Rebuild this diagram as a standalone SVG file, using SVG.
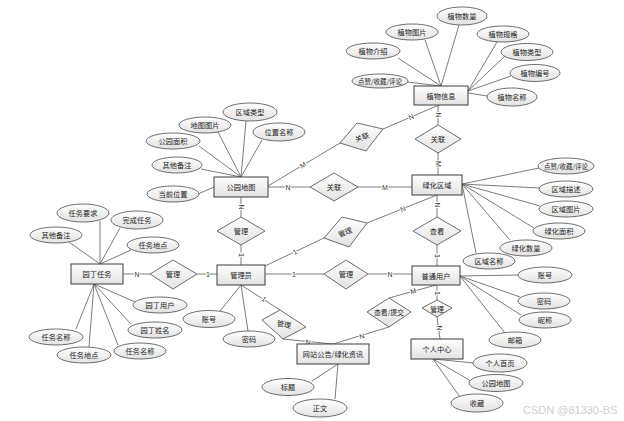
<svg xmlns="http://www.w3.org/2000/svg" width="624" height="421" viewBox="0 0 624 421">
<defs>
<linearGradient id="g" x1="0" y1="0" x2="0" y2="1">
<stop offset="0" stop-color="#ffffff"/>
<stop offset="1" stop-color="#e2e2e2"/>
</linearGradient>
<style>
.e{fill:url(#g);stroke:#3c3c3c;stroke-width:1}
.a{fill:url(#g);stroke:#4a4a4a;stroke-width:0.8}
.r{fill:url(#g);stroke:#4a4a4a;stroke-width:0.8}
.t{font-family:"Noto Sans CJK SC","Noto Sans",sans-serif;font-size:7.2px;fill:#222;text-anchor:middle;dominant-baseline:central}
.s{font-size:6.8px}
.x{font-size:6.5px}
.c line{stroke:#5a5a5a;stroke-width:0.8}
.l{font-family:"Liberation Sans",Arial,sans-serif;font-size:7px;fill:#333;text-anchor:middle;dominant-baseline:central;stroke:#fff;stroke-width:2;paint-order:stroke}
.w{font-family:"Liberation Sans",Arial,sans-serif;font-size:11px;fill:#cfcfcf}
</style>
</defs>
<rect width="624" height="421" fill="#fff"/>

<g id="connectors" class="c">
<line x1="441" y1="86" x2="459" y2="25"/>
<line x1="441" y1="86" x2="425" y2="40"/>
<line x1="441" y1="86" x2="398" y2="58"/>
<line x1="441" y1="86" x2="407" y2="82"/>
<line x1="468" y1="91" x2="497" y2="42"/>
<line x1="468" y1="91" x2="505" y2="56"/>
<line x1="468" y1="91" x2="511" y2="76"/>
<line x1="468" y1="93" x2="487" y2="96"/>
<line x1="241" y1="177" x2="246" y2="121"/>
<line x1="241" y1="177" x2="218" y2="132"/>
<line x1="241" y1="177" x2="262" y2="140"/>
<line x1="241" y1="177" x2="199" y2="146"/>
<line x1="241" y1="177" x2="201" y2="169"/>
<line x1="214" y1="187" x2="198" y2="194"/>
<line x1="462" y1="184" x2="539" y2="168"/>
<line x1="462" y1="184" x2="539" y2="188"/>
<line x1="462" y1="184" x2="540" y2="206"/>
<line x1="462" y1="184" x2="534" y2="228"/>
<line x1="462" y1="184" x2="510" y2="240"/>
<line x1="462" y1="184" x2="476" y2="253"/>
<line x1="100" y1="264" x2="100" y2="221"/>
<line x1="100" y1="264" x2="120" y2="228"/>
<line x1="100" y1="264" x2="69" y2="242"/>
<line x1="100" y1="264" x2="131" y2="250"/>
<line x1="94" y1="284" x2="76" y2="329"/>
<line x1="94" y1="284" x2="89" y2="347"/>
<line x1="94" y1="284" x2="118" y2="345"/>
<line x1="94" y1="284" x2="131" y2="324"/>
<line x1="94" y1="284" x2="135" y2="302"/>
<line x1="241" y1="285" x2="220" y2="311"/>
<line x1="241" y1="285" x2="248" y2="331"/>
<line x1="460" y1="276" x2="518" y2="275"/>
<line x1="460" y1="276" x2="520" y2="297"/>
<line x1="460" y1="276" x2="521" y2="315"/>
<line x1="460" y1="276" x2="505" y2="333"/>
<line x1="433" y1="359" x2="474" y2="363"/>
<line x1="433" y1="359" x2="471" y2="381"/>
<line x1="433" y1="359" x2="460" y2="397"/>
<line x1="338" y1="364" x2="312" y2="381"/>
<line x1="338" y1="364" x2="335" y2="399"/>
<line x1="438" y1="105" x2="438" y2="125"/>
<line x1="438" y1="153" x2="438" y2="175"/>
<line x1="268" y1="186" x2="340" y2="143"/>
<line x1="383" y1="129" x2="439" y2="105"/>
<line x1="268" y1="187" x2="310" y2="187"/>
<line x1="358" y1="187" x2="412" y2="187"/>
<line x1="241" y1="197" x2="241" y2="217"/>
<line x1="241" y1="245" x2="241" y2="265"/>
<line x1="265" y1="266" x2="324" y2="238"/>
<line x1="367" y1="223" x2="437" y2="195"/>
<line x1="437" y1="195" x2="437" y2="217"/>
<line x1="437" y1="245" x2="437" y2="266"/>
<line x1="123" y1="274" x2="150" y2="274"/>
<line x1="197" y1="274" x2="217" y2="274"/>
<line x1="265" y1="274" x2="324" y2="274"/>
<line x1="368" y1="274" x2="412" y2="274"/>
<line x1="241" y1="285" x2="280" y2="310"/>
<line x1="283" y1="339" x2="333" y2="344"/>
<line x1="389" y1="298" x2="436" y2="285"/>
<line x1="389" y1="327" x2="333" y2="344"/>
<line x1="437" y1="285" x2="437" y2="300"/>
<line x1="437" y1="317" x2="440" y2="339"/>
<text class="l" transform="translate(438,115) rotate(90)">N</text>
<text class="l" transform="translate(438,164) rotate(90)">M</text>
<text class="l" transform="translate(303,165) rotate(-31)">M</text>
<text class="l" transform="translate(411,117) rotate(-23)">N</text>
<text class="l" x="288" y="187">N</text>
<text class="l" x="385" y="187">M</text>
<text class="l" transform="translate(241,207) rotate(90)">N</text>
<text class="l" transform="translate(241,255) rotate(90)">1</text>
<text class="l" transform="translate(295,252) rotate(-25)">1</text>
<text class="l" transform="translate(403,209) rotate(-22)">N</text>
<text class="l" transform="translate(437,205) rotate(90)">N</text>
<text class="l" transform="translate(437,256) rotate(90)">1</text>
<text class="l" x="137" y="274">N</text>
<text class="l" x="208" y="274">1</text>
<text class="l" x="294" y="274">1</text>
<text class="l" x="390" y="274">N</text>
<text class="l" transform="translate(264,299) rotate(33)">1</text>
<text class="l" transform="translate(308,342) rotate(6)">N</text>
<text class="l" transform="translate(413,291) rotate(-16)">M</text>
<text class="l" transform="translate(362,336) rotate(-17)">N</text>
<text class="l" transform="translate(437,293) rotate(90)">1</text>
<text class="l" transform="translate(439,328) rotate(90)">N</text>
</g>

<g id="plant"><rect class="e" x="414" y="86" width="54" height="19"/><text class="t" x="441" y="95.5">植物信息</text></g>
<g id="parkmap"><rect class="e" x="214" y="177" width="54" height="20"/><text class="t" x="241" y="187">公园地图</text></g>
<g id="greenarea"><rect class="e" x="412" y="175" width="50" height="20"/><text class="t" x="437" y="185">绿化区域</text></g>
<g id="task"><rect class="e" x="71" y="264" width="52" height="20"/><text class="t" x="97" y="274">园丁任务</text></g>
<g id="admin"><rect class="e" x="217" y="265" width="48" height="20"/><text class="t" x="241" y="275">管理员</text></g>
<g id="user"><rect class="e" x="412" y="266" width="48" height="19"/><text class="t" x="436" y="275.5">普通用户</text></g>
<g id="center"><rect class="e" x="411" y="339" width="52" height="20"/><text class="t" x="437" y="349">个人中心</text></g>
<g id="notice"><rect class="e" x="297" y="344" width="72" height="20"/><text class="t" x="333" y="354">网站公告/绿化资讯</text></g>

<g id="rel-plant-area"><polygon class="r" points="438,125 461,139 438,153 415,139"/><text class="t" x="438" y="139">关联</text></g>
<g id="rel-map-plant"><polygon class="r" points="340,143 357,123 383,129 366,151"/><text class="t" transform="translate(362,137) rotate(-20)">关联</text></g>
<g id="rel-map-area"><polygon class="r" points="310,187 334,173 358,187 334,201"/><text class="t" x="334" y="187">关联</text></g>
<g id="mgr-map"><polygon class="r" points="217,231 241,217 265,231 241,245"/><text class="t" x="241" y="231">管理</text></g>
<g id="mgr-area"><polygon class="r" points="324,238 342,217 367,223 349,247"/><text class="t" transform="translate(345,232) rotate(-22)">管理</text></g>
<g id="view-area"><polygon class="r" points="413,231 437,217 461,231 437,245"/><text class="t" x="437" y="231">查看</text></g>
<g id="mgr-task"><polygon class="r" points="150,274 173,260 197,274 173,289"/><text class="t" x="173" y="274">管理</text></g>
<g id="mgr-user"><polygon class="r" points="324,274 346,260 368,274 346,289"/><text class="t" x="346" y="274">管理</text></g>
<g id="mgr-notice"><polygon class="r" points="262,320 280,310 306,327 283,339"/><text class="t" transform="translate(284,324) rotate(9)">管理</text></g>
<g id="submit"><polygon class="r" points="367,312 389,298 411,312 389,327"/><text class="t s" x="389" y="312">查看/提交</text></g>
<g id="mgr-center"><polygon class="r" points="422,308 437,300 452,308 437,317"/><text class="t s" x="437" y="308.5">管理</text></g>

<g id="a-p1"><ellipse class="a" cx="462" cy="16" rx="25" ry="9"/><text class="t" x="462" y="16">植物数量</text></g>
<g id="a-p2"><ellipse class="a" cx="412" cy="32" rx="26" ry="8"/><text class="t" x="412" y="32">植物图片</text></g>
<g id="a-p3"><ellipse class="a" cx="503" cy="34" rx="26" ry="8"/><text class="t" x="503" y="34">植物规格</text></g>
<g id="a-p4"><ellipse class="a" cx="373" cy="51" rx="27" ry="8"/><text class="t" x="373" y="51">植物介绍</text></g>
<g id="a-p5"><ellipse class="a" cx="527" cy="52" rx="26" ry="8.5"/><text class="t" x="527" y="52">植物类型</text></g>
<g id="a-p6"><ellipse class="a" cx="535" cy="73" rx="25" ry="8.5"/><text class="t" x="535" y="73">植物编号</text></g>
<g id="a-p7"><ellipse class="a" cx="380" cy="81" rx="28" ry="7"/><text class="t x" x="380" y="81">点赞/收藏/评论</text></g>
<g id="a-p8"><ellipse class="a" cx="512" cy="97" rx="25" ry="9"/><text class="t" x="512" y="97">植物名称</text></g>
<g id="a-m1"><ellipse class="a" cx="250" cy="112" rx="27" ry="9"/><text class="t" x="250" y="112">区域类型</text></g>
<g id="a-m2"><ellipse class="a" cx="205" cy="125" rx="26" ry="8"/><text class="t" x="205" y="125">地图图片</text></g>
<g id="a-m3"><ellipse class="a" cx="279" cy="132" rx="26" ry="9"/><text class="t" x="279" y="132">位置名称</text></g>
<g id="a-m4"><ellipse class="a" cx="173" cy="141" rx="27" ry="8"/><text class="t" x="173" y="141">公园面积</text></g>
<g id="a-m5"><ellipse class="a" cx="177" cy="165" rx="25" ry="8"/><text class="t" x="177" y="165">其他备注</text></g>
<g id="a-m6"><ellipse class="a" cx="173" cy="194" rx="26" ry="8"/><text class="t" x="173" y="194">当前位置</text></g>
<g id="a-g1"><ellipse class="a" cx="566" cy="166" rx="28" ry="8"/><text class="t x" x="566" y="166">点赞/收藏/评论</text></g>
<g id="a-g2"><ellipse class="a" cx="566" cy="189" rx="27" ry="8"/><text class="t" x="566" y="189">区域描述</text></g>
<g id="a-g3"><ellipse class="a" cx="566" cy="209" rx="27" ry="8"/><text class="t" x="566" y="209">区域图片</text></g>
<g id="a-g4"><ellipse class="a" cx="559" cy="231" rx="26" ry="8"/><text class="t" x="559" y="231">绿化面积</text></g>
<g id="a-g5"><ellipse class="a" cx="526" cy="248" rx="26" ry="8"/><text class="t" x="526" y="248">绿化数量</text></g>
<g id="a-g6"><ellipse class="a" cx="489" cy="261" rx="26" ry="8"/><text class="t" x="489" y="261">区域名称</text></g>
<g id="a-t1"><ellipse class="a" cx="83" cy="213" rx="26" ry="9"/><text class="t" x="83" y="213">任务要求</text></g>
<g id="a-t2"><ellipse class="a" cx="137" cy="220" rx="26" ry="9"/><text class="t" x="137" y="220">完成任务</text></g>
<g id="a-t3"><ellipse class="a" cx="56" cy="235" rx="26" ry="8"/><text class="t" x="56" y="235">其他备注</text></g>
<g id="a-t4"><ellipse class="a" cx="153" cy="245" rx="26" ry="8"/><text class="t" x="153" y="245">任务地点</text></g>
<g id="a-t5"><ellipse class="a" cx="160" cy="305" rx="27" ry="8"/><text class="t" x="160" y="305">园丁用户</text></g>
<g id="a-t6"><ellipse class="a" cx="155" cy="330" rx="27" ry="8"/><text class="t" x="155" y="330">园丁姓名</text></g>
<g id="a-t7"><ellipse class="a" cx="56" cy="337" rx="27" ry="8"/><text class="t" x="56" y="337">任务名称</text></g>
<g id="a-t8"><ellipse class="a" cx="84" cy="355" rx="27" ry="8"/><text class="t" x="84" y="355">任务地点</text></g>
<g id="a-t9"><ellipse class="a" cx="140" cy="351" rx="26" ry="8"/><text class="t" x="140" y="351">任务名称</text></g>
<g id="a-ad1"><ellipse class="a" cx="209" cy="319" rx="26" ry="8.5"/><text class="t" x="209" y="319">账号</text></g>
<g id="a-ad2"><ellipse class="a" cx="249" cy="339" rx="26" ry="8"/><text class="t" x="249" y="339">密码</text></g>
<g id="a-u1"><ellipse class="a" cx="545" cy="275" rx="27" ry="8"/><text class="t" x="545" y="275">账号</text></g>
<g id="a-u2"><ellipse class="a" cx="544" cy="301" rx="26" ry="8"/><text class="t" x="544" y="301">密码</text></g>
<g id="a-u3"><ellipse class="a" cx="545" cy="320" rx="26" ry="8"/><text class="t" x="545" y="320">昵称</text></g>
<g id="a-u4"><ellipse class="a" cx="515" cy="340" rx="26" ry="8"/><text class="t" x="515" y="340">邮箱</text></g>
<g id="a-c1"><ellipse class="a" cx="500" cy="363" rx="27" ry="9"/><text class="t" x="500" y="363">个人首页</text></g>
<g id="a-c2"><ellipse class="a" cx="496" cy="383" rx="27" ry="8.5"/><text class="t" x="496" y="383">公园地图</text></g>
<g id="a-c3"><ellipse class="a" cx="477" cy="403" rx="26" ry="9"/><text class="t" x="477" y="403">收藏</text></g>
<g id="a-n1"><ellipse class="a" cx="288" cy="387" rx="26" ry="8.5"/><text class="t" x="288" y="387">标题</text></g>
<g id="a-n2"><ellipse class="a" cx="320" cy="408" rx="27" ry="9"/><text class="t" x="320" y="408">正文</text></g>

<text class="w" x="523" y="414">CSDN @81330-BS</text>
</svg>
